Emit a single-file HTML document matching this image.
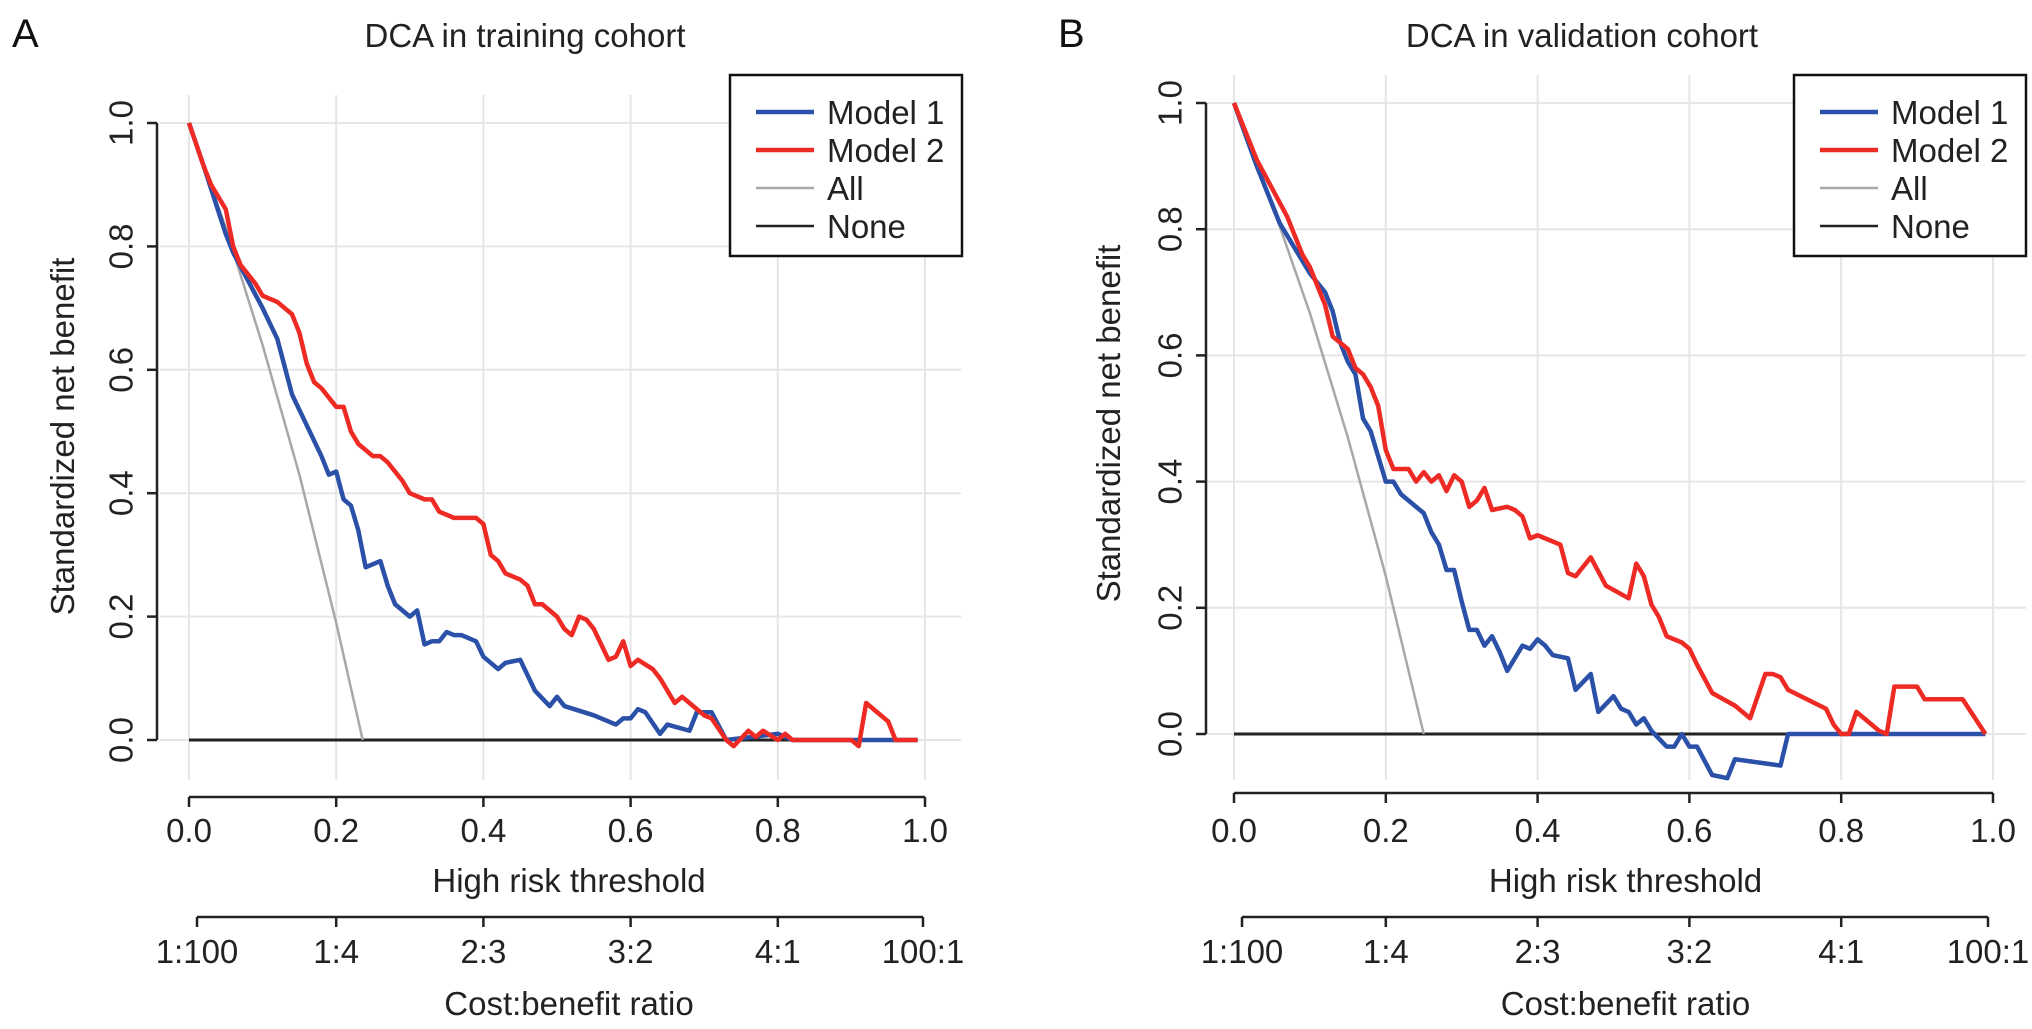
<!DOCTYPE html>
<html><head><meta charset="utf-8"><style>
html,body{margin:0;padding:0;background:#fff;}
svg{display:block;font-family:"Liberation Sans",Arial,sans-serif;}
</style></head><body>
<svg id="fig" width="2032" height="1029" viewBox="0 0 2032 1029" xmlns="http://www.w3.org/2000/svg"></svg>
<script>
// ---- Data ----
const xTicks = [0, 0.2, 0.4, 0.6, 0.8, 1.0];
const xTickLabels = ["0.0", "0.2", "0.4", "0.6", "0.8", "1.0"];
const yTicks = [0, 0.2, 0.4, 0.6, 0.8, 1.0];
const yTickLabels = ["0.0", "0.2", "0.4", "0.6", "0.8", "1.0"];
const costLabels = ["1:100", "1:4", "2:3", "3:2", "4:1", "100:1"];
const legendLabels = ["Model 1", "Model 2", "All", "None"];

const aModel1X = [0,.02,.05,.06,.1,.12,.14,.16,.18,.19,.2,.21,.22,.23,.24,.25,.26,.27,.28,.3,.31,.32,.33,.34,.35,.36,.37,.38,.39,.4,.42,.43,.45,.47,.49,.5,.51,.55,.58,.59,.6,.61,.62,.64,.65,.68,.69,.71,.73,.8,.82,.96,.99];
const aModel1Y = [1,.93,.82,.79,.70,.65,.56,.51,.46,.43,.435,.39,.38,.34,.28,.285,.29,.25,.22,.20,.21,.155,.16,.16,.175,.17,.17,.165,.16,.135,.115,.125,.13,.08,.055,.07,.055,.04,.025,.035,.035,.05,.045,.01,.025,.015,.045,.045,0,.01,0,0,0];
const aModel2X = [0,.02,.03,.05,.06,.07,.09,.1,.12,.14,.15,.16,.17,.18,.2,.21,.22,.23,.25,.26,.27,.29,.3,.32,.33,.34,.36,.37,.39,.4,.41,.42,.43,.45,.46,.47,.48,.5,.51,.52,.53,.54,.55,.57,.58,.59,.6,.61,.63,.64,.66,.67,.69,.7,.71,.73,.74,.76,.77,.78,.8,.81,.82,.9,.91,.92,.95,.96,.99];
const aModel2Y = [1,.93,.90,.86,.80,.77,.74,.72,.71,.69,.66,.61,.58,.57,.54,.54,.50,.48,.46,.46,.45,.42,.40,.39,.39,.37,.36,.36,.36,.35,.30,.29,.27,.26,.25,.22,.22,.20,.18,.17,.20,.195,.18,.13,.135,.16,.12,.13,.115,.10,.06,.07,.05,.04,.035,0,-.01,.015,.005,.015,0,.01,0,0,-.01,.06,.03,0,0];
const aAllX = [0,.05,.1,.15,.2,.236];
const aAllY = [1,.83,.64,.43,.19,0];

const bModel1X = [0,.03,.06,.09,.1,.12,.13,.14,.15,.16,.17,.18,.19,.2,.21,.22,.24,.25,.26,.27,.28,.29,.3,.31,.32,.33,.34,.35,.36,.38,.39,.4,.41,.42,.44,.45,.47,.48,.5,.51,.52,.53,.54,.55,.57,.58,.59,.6,.61,.63,.65,.66,.72,.73,.99];
const bModel1Y = [1,.90,.81,.75,.73,.70,.67,.62,.59,.57,.50,.48,.44,.40,.40,.38,.36,.35,.32,.30,.26,.26,.21,.165,.165,.14,.155,.13,.10,.14,.135,.15,.14,.125,.12,.07,.095,.035,.06,.04,.035,.015,.025,.005,-.02,-.02,0,-.02,-.02,-.065,-.07,-.04,-.05,0,0];
const bModel2X = [0,.03,.07,.09,.1,.11,.12,.13,.14,.15,.16,.17,.18,.19,.2,.21,.22,.23,.24,.25,.26,.27,.28,.29,.3,.31,.32,.33,.34,.36,.37,.38,.39,.4,.41,.43,.44,.45,.47,.49,.52,.53,.54,.55,.56,.57,.59,.6,.61,.63,.66,.68,.7,.71,.72,.73,.78,.79,.8,.81,.82,.84,.85,.86,.87,.9,.91,.96,.99];
const bModel2Y = [1,.91,.82,.76,.74,.71,.68,.63,.62,.61,.58,.57,.55,.52,.45,.42,.42,.42,.40,.415,.40,.41,.385,.41,.40,.36,.37,.39,.355,.36,.355,.345,.31,.315,.31,.30,.255,.25,.28,.235,.215,.27,.25,.205,.185,.155,.145,.135,.11,.065,.045,.025,.095,.095,.09,.07,.04,.015,0,0,.035,.015,.005,0,.075,.075,.055,.055,0];
const bAllX = [0,.05,.1,.15,.2,.25];
const bAllY = [1,.84,.667,.47,.25,0];

// ---- Drawing ----
const NS = "http://www.w3.org/2000/svg";
const svg = document.getElementById("fig");
const FS = 33;
function mk(tag, attrs, parent, text) {
  const e = document.createElementNS(NS, tag);
  for (const k in attrs) e.setAttribute(k, attrs[k]);
  if (text !== undefined) e.textContent = text;
  (parent || svg).appendChild(e);
  return e;
}

function panel(p) {
  const g = mk("g", {});
  
  
  const sx = v => p.x0 + (p.x1 - p.x0) * v;
  const sy = v => p.y0 + (p.y1 - p.y0) * v;
  const grid = mk("g", {stroke: "#e6e6e6", "stroke-width": 2}, g);
  
  
  xTicks.forEach(t => mk("line", {x1: sx(t), x2: sx(t), y1: p.gTop, y2: p.gBot}, grid));
  yTicks.forEach(t => mk("line", {x1: p.gLeft, x2: p.gRight, y1: sy(t), y2: sy(t)}, grid));
  const none = mk("line", {x1: sx(0), x2: sx(0.99), y1: sy(0), y2: sy(0), stroke: "#222", "stroke-width": 3}, g);
  
  
  const line = (xs, ys, col, w, name) => {
    const e = mk("polyline", {points: xs.map((x, i) => sx(x) + "," + sy(ys[i])).join(" "), fill: "none", stroke: col, "stroke-width": w, "stroke-linejoin": "round"}, g);
    
    
  };
  line(p.allX, p.allY, "#a8a8a8", 2.5, "all-line");
  line(p.m1X, p.m1Y, "#2a50a8", 4.5, "model-1-line");
  line(p.m2X, p.m2Y, "#ee2a24", 4.5, "model-2-line");
  const ya = mk("g", {}, g);
  
  
  mk("line", {x1: p.yAxX, x2: p.yAxX, y1: sy(0), y2: sy(1), stroke: "#222", "stroke-width": 2.5}, ya);
  yTicks.forEach((t, i) => {
    mk("line", {x1: p.yAxX - 10, x2: p.yAxX, y1: sy(t), y2: sy(t), stroke: "#222", "stroke-width": 2.5}, ya);
    const lx = p.yAxX - 36, ly = sy(t);
    const tl = mk("text", {x: lx, y: ly, "font-size": FS, "text-anchor": "middle", "dominant-baseline": "central", transform: "rotate(-90 " + lx + " " + ly + ")", fill: "#222"}, ya, yTickLabels[i]);
    
    
  });
  const cy = (sy(0) + sy(1)) / 2 + 5;
  const yt = mk("text", {x: p.yTitleX, y: cy, "font-size": FS, "text-anchor": "middle", transform: "rotate(-90 " + p.yTitleX + " " + cy + ")", fill: "#222"}, g, "Standardized net benefit");
  
  
  const xa = mk("g", {}, g);
  
  
  mk("line", {x1: sx(0), x2: sx(1), y1: p.xAxY, y2: p.xAxY, stroke: "#222", "stroke-width": 2.5}, xa);
  xTicks.forEach((t, i) => {
    mk("line", {x1: sx(t), x2: sx(t), y1: p.xAxY, y2: p.xAxY + 10, stroke: "#222", "stroke-width": 2.5}, xa);
    const tl = mk("text", {x: sx(t), y: 842, "font-size": FS, "text-anchor": "middle", fill: "#222"}, xa, xTickLabels[i]);
    
    
  });
  const xt = mk("text", {x: (sx(0) + sx(1)) / 2 + 12, y: 892, "font-size": FS, "text-anchor": "middle", fill: "#222"}, g, "High risk threshold");
  
  
  const ca = mk("g", {}, g);
  
  
  mk("line", {x1: p.cx0, x2: p.cx1, y1: 917, y2: 917, stroke: "#222", "stroke-width": 2.5}, ca);
  const cpos = [p.cx0, sx(0.2), sx(0.4), sx(0.6), sx(0.8), p.cx1];
  costLabels.forEach((c, i) => {
    mk("line", {x1: cpos[i], x2: cpos[i], y1: 917, y2: 927, stroke: "#222", "stroke-width": 2.5}, ca);
    const tl = mk("text", {x: cpos[i], y: 963, "font-size": FS, "text-anchor": "middle", fill: "#222"}, ca, c);
    
    
  });
  const ct = mk("text", {x: (sx(0) + sx(1)) / 2 + 12, y: 1015, "font-size": FS, "text-anchor": "middle", fill: "#222"}, g, "Cost:benefit ratio");
  
  
  const ti = mk("text", {x: p.titleX, y: 47, "font-size": FS, "text-anchor": "middle", fill: "#222"}, g, p.title);
  
  
  const le = mk("text", {x: p.letterX, y: 47, "font-size": 40, fill: "#111"}, g, p.letter);
  
  
  const lg = mk("g", {}, g);
  
  
  mk("rect", {x: p.lgX, y: 75, width: 232, height: 181, fill: "#fff", stroke: "#111", "stroke-width": 2.5}, lg);
  const cols = ["#2a50a8", "#ee2a24", "#a8a8a8", "#222"];
  const ws = [4.5, 4.5, 2.5, 2.5];
  legendLabels.forEach((l, i) => {
    const yy = 112 + i * 38;
    const en = mk("g", {}, lg);
    
    
    mk("line", {x1: p.lgX + 26, x2: p.lgX + 84, y1: yy, y2: yy, stroke: cols[i], "stroke-width": ws[i]}, en);
    mk("text", {x: p.lgX + 97, y: yy + 12, "font-size": FS, fill: "#222"}, en, l);
  });
}

panel({id: "training", title: "DCA in training cohort", titleX: 525, letter: "A", letterX: 12,
  x0: 189, x1: 925, y0: 740, y1: 123, gTop: 95, gBot: 780, gLeft: 160, gRight: 961,
  yAxX: 157, yTitleX: 74, xAxY: 797, cx0: 197, cx1: 923, lgX: 730,
  m1X: aModel1X, m1Y: aModel1Y, m2X: aModel2X, m2Y: aModel2Y, allX: aAllX, allY: aAllY});
panel({id: "validation", title: "DCA in validation cohort", titleX: 1582, letter: "B", letterX: 1058,
  x0: 1234, x1: 1993, y0: 734, y1: 103, gTop: 75, gBot: 780, gLeft: 1206, gRight: 2026,
  yAxX: 1206, yTitleX: 1120, xAxY: 793, cx0: 1242, cx1: 1988, lgX: 1794,
  m1X: bModel1X, m1Y: bModel1Y, m2X: bModel2X, m2Y: bModel2Y, allX: bAllX, allY: bAllY});
</script>
</body></html>
